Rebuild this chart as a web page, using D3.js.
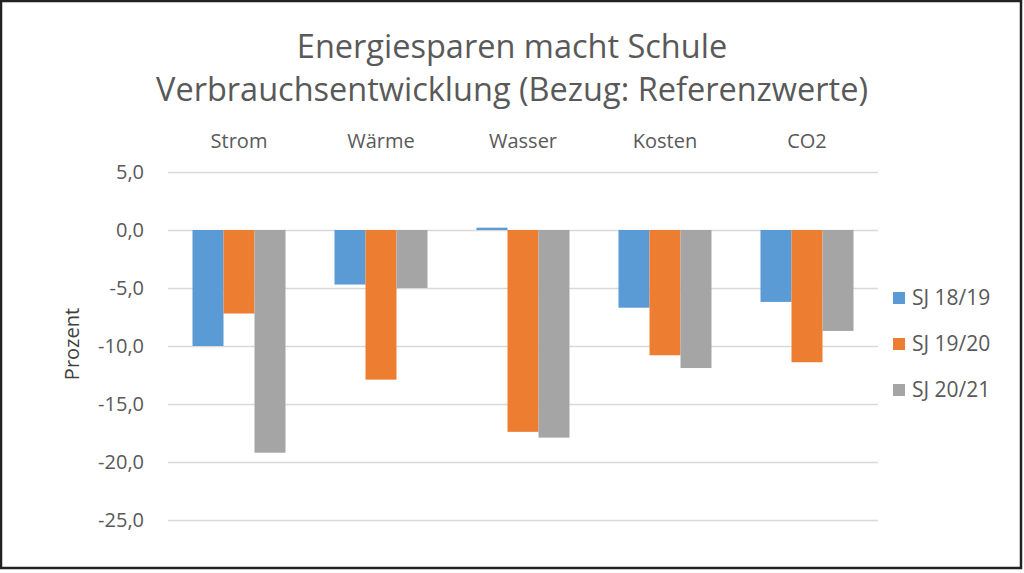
<!DOCTYPE html>
<html>
<head>
<meta charset="utf-8">
<script src="https://cdn.jsdelivr.net/npm/d3@7"></script>
<style>
    body { margin: 0; background: #fff; }
    svg { display: block; font-family: "Open Sans", sans-serif; }
    .tick text { fill: #595959; }
</style>
</head>
<body>
<script>
// Chart size
const width = 1024;
const height = 573;
const margin = { top: 172, right: 146, bottom: 53, left: 168 };

// Data
const categories = ["Strom", "Wärme", "Wasser", "Kosten", "CO2"];
const seriesNames = ["SJ 18/19", "SJ 19/20", "SJ 20/21"];
const sj1819 = [-10.0, -4.7, 0.2, -6.7, -6.2];
const sj1920 = [-7.2, -12.9, -17.4, -10.8, -11.4];
const sj2021 = [-19.2, -5.0, -17.9, -11.9, -8.7];
const yTicks = [5, 0, -5, -10, -15, -20, -25];
const colors = ["#5B9BD5", "#ED7D31", "#A5A5A5"];

const seriesValues = [sj1819, sj1920, sj2021];
const data = categories.map((c, i) => ({
    category: c,
    values: seriesNames.map((s, j) => ({ series: s, value: seriesValues[j][i] }))
}));

const svg = d3.select("body")
    .append("svg")
    .attr("width", width)
    .attr("height", height);

// Frame around the picture
svg.append("rect")
    .attr("x", 1)
    .attr("y", 1)
    .attr("width", 1020)
    .attr("height", 567)
    .attr("fill", "none")
    .attr("stroke", "#222")
    .attr("stroke-width", 2.5);

// Scales
const xScale = d3.scaleBand()
    .domain(categories)
    .range([margin.left, width - margin.right]);

const xInner = d3.scaleBand()
    .domain(seriesNames)
    .range([0, 93]);

const yScale = d3.scaleLinear()
    .domain([-25, 5])
    .range([height - margin.bottom, margin.top]);

// Gridlines + y labels
const leftAxis = d3.axisLeft(yScale)
    .tickValues(yTicks)
    .tickSize(-(width - margin.left - margin.right))
    .tickPadding(24)
    .tickFormat(d => d3.format(".1f")(d).replace(".", ",").replace("−", "-"));

const yAxis = svg.append("g")
    .attr("transform", `translate(${margin.left}, 0)`)
    .call(leftAxis)
    .attr("font-family", null);

yAxis.select(".domain").remove();
yAxis.selectAll(".tick line").attr("stroke", "#D9D9D9").attr("stroke-width", 1.5);
yAxis.selectAll(".tick text").attr("font-size", 20);

// Bars
const groups = svg.selectAll(".group")
    .data(data)
    .join("g")
    .attr("transform", d => `translate(${xScale(d.category) + (xScale.bandwidth() - 93) / 2}, 0)`);

groups.selectAll("rect")
    .data(d => d.values)
    .join("rect")
    .attr("x", d => xInner(d.series))
    .attr("width", xInner.bandwidth())
    .attr("y", d => yScale(Math.max(0, d.value)))
    .attr("height", d => Math.abs(yScale(d.value) - yScale(0)))
    .attr("fill", (d, i) => colors[i]);

// Category labels at the top
const topAxis = d3.axisTop(xScale).tickSize(0).tickPadding(0);
const xAxis = svg.append("g")
    .attr("transform", "translate(0, 148)")
    .call(topAxis)
    .attr("font-family", null);
xAxis.select(".domain").remove();
xAxis.selectAll(".tick text").attr("font-size", 20);

// Title
svg.append("text")
    .attr("x", 512)
    .attr("y", 58)
    .attr("text-anchor", "middle")
    .attr("font-size", 32.5)
    .attr("fill", "#595959")
    .text("Energiesparen macht Schule");

svg.append("text")
    .attr("x", 512)
    .attr("y", 101)
    .attr("text-anchor", "middle")
    .attr("font-size", 32.5)
    .attr("fill", "#595959")
    .text("Verbrauchsentwicklung (Bezug: Referenzwerte)");

// Y-axis label
svg.append("text")
    .attr("transform", "rotate(-90)")
    .attr("x", -344)
    .attr("y", 79)
    .attr("text-anchor", "middle")
    .attr("font-size", 20)
    .attr("fill", "#404040")
    .text("Prozent");

// Legend
const legend = svg.selectAll(".legend")
    .data(seriesNames)
    .join("g")
    .attr("transform", (d, i) => `translate(893, ${298 + i * 46})`);

legend.append("rect")
    .attr("x", 0)
    .attr("y", -6)
    .attr("width", 12)
    .attr("height", 12)
    .attr("fill", (d, i) => colors[i]);

legend.append("text")
    .attr("x", 19)
    .attr("y", 7)
    .attr("font-size", 21)
    .attr("fill", "#595959")
    .text(d => d);
</script>
</body>
</html>
